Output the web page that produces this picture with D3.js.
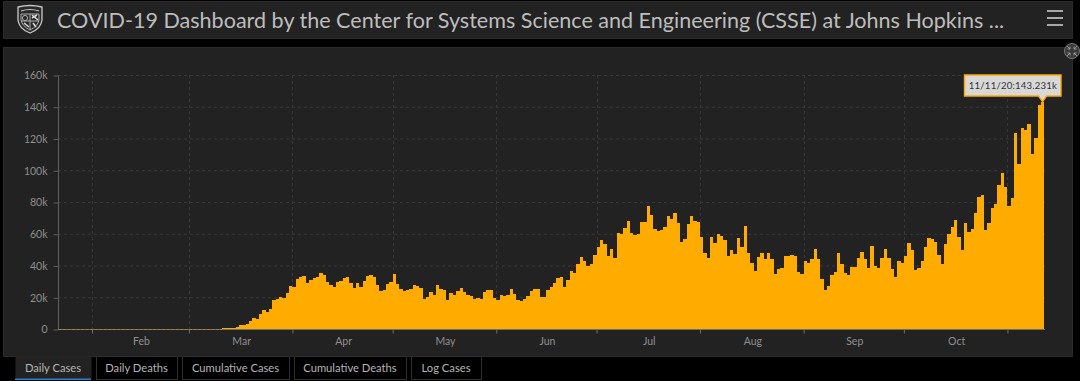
<!DOCTYPE html>
<html><head><meta charset="utf-8">
<script src="https://cdn.jsdelivr.net/npm/d3@7/dist/d3.min.js"></script>
<style>
html,body{margin:0;padding:0;background:#000;width:1080px;height:381px;overflow:hidden}
svg{display:block;font-family:Lato,"Open Sans",sans-serif}
</style></head><body><svg id="c" width="1080" height="381"></svg>
<script>
const titleText="COVID-19 Dashboard by the Center for Systems Science and Engineering (CSSE) at Johns Hopkins ...";
const startDate="2020-01-22";
const tabs=["Daily Cases","Daily Deaths","Cumulative Cases","Cumulative Deaths","Log Cases"];
const tabEdges=[[15,91],[96,177],[182,289],[294,406],[411,481]];
const yTicks=[0,20,40,60,80,100,120,140,160];
const monthStarts=["2020-02-01","2020-03-01","2020-04-01","2020-05-01","2020-06-01","2020-07-01","2020-08-01","2020-09-01","2020-10-01","2020-11-01"];
const monthLabels=["Feb","Mar","Apr","May","Jun","Jul","Aug","Sep","Oct"];
const tooltipText="11/11/20:143.231k";
// daily new cases, thousands
const janFeb=[0,0,0,0.001,0,0.001,0,0,0,0.001,0,0.001,0,0,0,0,0,0,0.001,0,0,0,0,0,0,0,0,0,0.001,0.002,0.004,0.003,0.002,0.005,0.002,0.002,0.004,0.003,0.005];
const early=[0.02,0.03,0.05,0.1,0.1,0.1,0.12,0.15,0.2,0.3];
const mar=[0.8,0.8,0.9,0.9,1.0,2.3,2.3,3.2,4.8,6.9,6.5,9.2,12.0,10.9,12.4,18.3,18.7,20.0,19.3,22.9,27.1];
const apr=[26.7,31.3,32.8,33.6,28.8,30.9,31.9,32.6,35.3,34.2,29.8,27.7,26.7,29.4,30.2,31.9,33.0,28.8,26.0,28.8,26.5,30.0,33.6,34.0,32.6,27.7,23.9,24.8,28.1,29.8];
const may=[34.7,28.4,25.0,23.7,24.4,25.0,27.9,27.1,25.6,19.1,20.0,23.1,21.2,27.5,25.4,24.4,18.5,22.5,21.6,23.7,25.8,23.5,21.6,20.6,19.1,19.7,19.1,23.3,24.8,24.4,19.5];
const jun=[18.3,21.6,20.6,21.2,25.4,22.1,18.3,17.6,18.7,20.8,23.7,25.4,25.4,20.0,20.4,24.6,26.7,28.8,32.1,32.6,26.7,30.9,36.3,35.1,41.0,45.2,42.6,39.5,41.0,46.6];
const jul=[51.9,55.9,53.3,46.0,50.2,44.5,60.7,59.9,63.8,68.0,60.7,59.4,59.9,67.2,67.6,77.5,72.0,62.8,61.7,62.4,64.5,71.2,69.5,72.9,66.6,55.0,56.9,65.9,71.4,68.3,67.6];
const aug=[58.0,47.7,44.9,57.8,54.4,60.1,58.8,56.1,46.0,49.8,47.0,57.3,51.9,64.9,48.1,41.4,36.3,45.2,47.7,44.1,48.1,44.1,34.7,37.6,38.2,46.0,46.0,46.4,46.0,35.7,34.7];
const sep=[42.6,41.4,44.3,50.4,44.3,31.5,24.4,26.9,34.0,36.1,48.1,41.0,35.3,34.2,39.3,38.9,44.9,48.7,43.9,38.6,52.1,39.9,38.4,44.5,50.4,44.7,37.8,32.6,42.6,41.8];
const oct=[46.0,54.0,49.8,37.0,38.6,42.6,51.7,57.3,56.9,54.8,46.6,41.2,53.8,59.6,64.5,68.7,57.8,49.8,67.0,61.3,63.0,73.3,83.2,84.4,62.4,66.6,76.0,78.8,90.5,98.1,89.5];
const nov=[77.3,82.5,123.7,104.0,126.4,125.6,129.2,110.5,120.3,141.1,143.231];
const values=[...janFeb,...early,...mar,...apr,...may,...jun,...jul,...aug,...sep,...oct,...nov];

const parse=d3.utcParse("%Y-%m-%d");
const days=values.map((v,i)=>d3.utcDay.offset(parse(startDate),i));
const svg=d3.select("#c");
const panelFill="#222222";
svg.append("rect").attr("x",3.5).attr("y",1.5).attr("width",1069).attr("height",37).attr("fill",panelFill).attr("stroke","#2b2b2b");
svg.append("rect").attr("x",3.5).attr("y",47.5).attr("width",1069).attr("height",309).attr("fill",panelFill).attr("stroke","#2b2b2b");

// logo
const logo=svg.append("g").attr("transform","translate(17,5)");
logo.append("path").attr("d","M1 2 Q13 -1 25 2 L25 15 Q24 24 13 28 Q2 24 1 15Z").attr("fill","#2a2a2a").attr("stroke","#c9c9c9").attr("stroke-width",1.3);
logo.append("path").attr("d","M4 6 Q13 3 22 6").attr("fill","none").attr("stroke","#c9c9c9").attr("stroke-width",1.2);
logo.append("path").attr("d","M4 9 H22 V15 Q21 21 13 25 Q5 21 4 15Z").attr("fill","none").attr("stroke","#bbb").attr("stroke-width",.9);
logo.append("path").attr("d","M13 9 V25 M4 16 H22").attr("stroke","#bbb").attr("stroke-width",.9);
logo.append("path").attr("d","M15 10 L21 15 M15 13 L20 10 M7 18 L12 22 M16 18 L19 22").attr("stroke","#ddd").attr("stroke-width",1.5);
logo.append("circle").attr("cx",8).attr("cy",13).attr("r",2.6).attr("fill","none").attr("stroke","#aaa");

svg.append("text").attr("x",57).attr("y",27.5).attr("fill","#bdbdbd").attr("font-size",21.55).text(titleText);
svg.append("g").selectAll("rect").data([11,18,25]).join("rect").attr("x",1047).attr("y",d=>d-1).attr("width",16).attr("height",2).attr("fill","#a8a8a8");

// scales
const x=d3.scaleUtc().domain([parse(startDate),d3.utcDay.offset(parse(startDate),values.length)]).range([58.6,1044.2]);
const y=d3.scaleLinear().domain([0,160]).range([329,75]);
const months=monthStarts.map(parse);

// grid
const gridC="#383838";
svg.append("g").selectAll("line").data(yTicks.slice(1)).join("line")
 .attr("x1",58).attr("x2",1045).attr("y1",d=>y(d)+.5).attr("y2",d=>y(d)+.5)
 .attr("stroke",gridC).attr("stroke-dasharray","3,3");
svg.append("g").selectAll("line").data(months).join("line")
 .attr("x1",d=>Math.round(x(d))+.5).attr("x2",d=>Math.round(x(d))+.5).attr("y1",75).attr("y2",329)
 .attr("stroke",gridC).attr("stroke-dasharray","3,3");

// bars
svg.append("g").attr("shape-rendering","crispEdges").selectAll("rect").data(values).join("rect")
 .attr("x",(d,i)=>x(days[i])).attr("y",d=>y(d))
 .attr("width",(d,i)=>x(d3.utcDay.offset(days[i],1))-x(days[i]))
 .attr("height",d=>y(0)-y(d)).attr("fill","#ffab00");

// axes
const ay=svg.append("g").attr("transform","translate(58.5,0.5)")
 .call(d3.axisLeft(y).tickValues(yTicks).tickSize(5).tickPadding(6).tickFormat(d=>d===0?"0":d+"k"));
ay.selectAll("path,line").attr("stroke","#5c5c5c");
ay.select(".domain").attr("d","M-0,75V329");
ay.selectAll("text").attr("fill","#8f8f8f").attr("font-size",10.5).attr("font-family","Lato,sans-serif");
const ax=svg.append("g").attr("transform","translate(0,329.5)")
 .call(d3.axisBottom(x).tickValues(months).tickSize(4).tickFormat(""));
ax.selectAll("path,line").attr("stroke","#6e6e6e");
ax.select(".domain").attr("d","M58,0H1045");
// near-zero days show as a dashed orange trace along the axis
svg.append("line").attr("x1",x(days[0])).attr("x2",x(days[49])).attr("y1",329.5).attr("y2",329.5)
 .attr("stroke","#a8803a").attr("stroke-dasharray","3,1.5");
svg.append("g").selectAll("text").data(monthLabels).join("text")
 .attr("x",(d,i)=>(x(months[i])+x(months[i+1]))/2+1).attr("y",345).attr("text-anchor","middle")
 .attr("fill","#8f8f8f").attr("font-size",10.5).text(d=>d);

// expand icon
const ic=svg.append("g").attr("transform","translate(1072,51)");
ic.append("circle").attr("r",7.5).attr("fill","#3a3a3a").attr("stroke","#777");
ic.append("path").attr("d","M-5 -5L-2 -2M-2 -4.5V-2H-4.5M5 -5L2 -2M2 -4.5V-2H4.5M-5 5L-2 2M-2 4.5V2H-4.5M5 5L2 2M2 4.5V2H4.5").attr("stroke","#aaa").attr("fill","none").attr("stroke-width",.8);

// tooltip
const last=days[days.length-1];
const tipX=x(last)+1.7;
const tip=svg.append("g");
tip.append("path").attr("d",`M964.5 75 H1061 V96 H${tipX+4} L${tipX} ${y(143.231)} L${tipX-4} 96 H964.5 Z`)
 .attr("fill","#d8d8d8").attr("stroke","#ffab00").attr("stroke-width",1.4);
tip.append("text").attr("x",1013).attr("y",88.5).attr("text-anchor","middle").attr("fill","#333").attr("font-size",9.6).attr("letter-spacing",.2).text(tooltipText);

// tabs
const tg=svg.append("g").selectAll("g").data(tabs).join("g");
tg.append("rect").attr("x",(d,i)=>tabEdges[i][0]+.5).attr("y",356.5).attr("width",(d,i)=>tabEdges[i][1]-tabEdges[i][0]).attr("height",23)
 .attr("fill",(d,i)=>i?"#000":panelFill).attr("stroke",(d,i)=>i?"#2e2e2e":"none");
tg.append("text").attr("x",(d,i)=>(tabEdges[i][0]+tabEdges[i][1])/2).attr("y",372).attr("text-anchor","middle")
 .attr("fill","#b5b5b5").attr("font-size",11.2).text(d=>d);
svg.append("rect").attr("x",tabEdges[0][0]).attr("y",378.5).attr("width",tabEdges[0][1]-tabEdges[0][0]).attr("height",1.6).attr("fill","#2f7fc8");
</script></body></html>
